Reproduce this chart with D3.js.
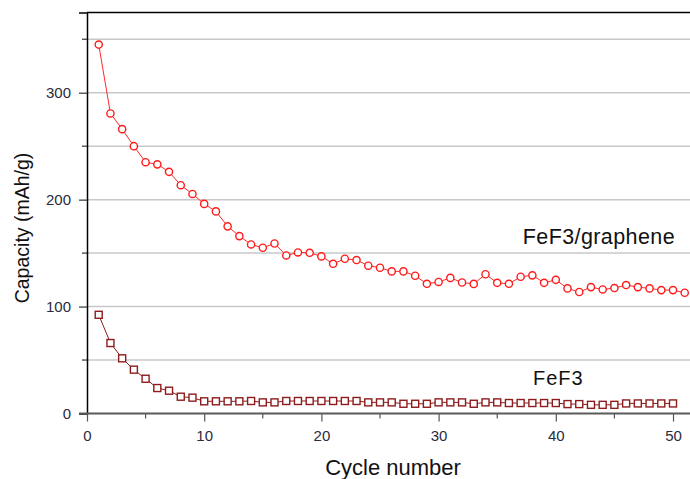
<!DOCTYPE html>
<html>
<head>
<meta charset="utf-8">
<script src="https://cdn.jsdelivr.net/npm/d3@7"></script>
<style>
  html, body { margin: 0; padding: 0; background: #fff; }
  svg { display: block; font-family: "Liberation Sans", Arial, sans-serif; }
</style>
</head>
<body>
<svg id="chart" width="690" height="479"></svg>
<script>
// capacity vs cycle number, two series
const cyclesGraphene = d3.range(1, 52);
const capGraphene = [
  345, 280.6, 265.9, 250, 235, 233, 226, 213.5, 205.3, 196,
  189, 175, 165.9, 158.1, 155, 159, 147.8, 150.6, 150.3, 146.9,
  140, 144.7, 143.5, 138.2, 136.3, 132.9, 132.9, 128.8, 121.3, 123,
  126.8, 122.5, 121.2, 130.2, 122.2, 121.3, 127.9, 129.2, 122.2, 125,
  117, 113.6, 118.2, 116, 117.3, 120.1, 118.2, 117, 115.4, 115.4,
  112.9
];
const cyclesFeF3 = d3.range(1, 51);
const capFeF3 = [
  92.3, 65.9, 51.6, 41, 32.5, 23.8, 21.3, 15.7, 14.8, 11.4,
  11.4, 11.4, 11.4, 11.7, 10.4, 10.4, 11.7, 11.7, 11.7, 11.7,
  11.7, 11.7, 11.7, 10.4, 10.4, 10.4, 9.1, 9.1, 9.1, 10.4,
  10.4, 10.4, 9.1, 10.4, 10.4, 9.8, 9.8, 9.8, 9.8, 9.8,
  8.8, 8.8, 8.1, 8.1, 8.1, 9.4, 9.4, 9.4, 9.4, 9.4
];
const yTicksMajor = [0, 100, 200, 300];
const yTicksMinor = [50, 150, 250, 350];
const yGrid = [50, 100, 150, 200, 250, 300, 350];
const xTicksMajor = [0, 10, 20, 30, 40, 50];
const xTicksMinor = [5, 15, 25, 35, 45];

const mLeft = 87, mTop = 12.5, mRight = 690, mBottom = 413.5;
const svg = d3.select("#chart");

const x = d3.scaleLinear().domain([0, 51.45]).range([mLeft, mRight]);
const y = d3.scaleLinear().domain([0, 375]).range([mBottom, mTop]);

// gridlines
svg.append("g").selectAll("line").data(yGrid).enter().append("line")
  .attr("x1", mLeft).attr("x2", mRight)
  .attr("y1", d => y(d)).attr("y2", d => y(d))
  .attr("stroke", "#c8c8c8").attr("stroke-width", 1.5);

// top frame line
svg.append("line")
  .attr("x1", mLeft).attr("x2", mRight).attr("y1", mTop).attr("y2", mTop)
  .attr("stroke", "#000").attr("stroke-width", 1.5);

// y axis
const yAxis = svg.append("g").attr("transform", `translate(${mLeft},0)`)
  .call(d3.axisLeft(y).tickValues(yTicksMajor).tickSize(8).tickPadding(8).tickFormat(d3.format("d")));
yAxis.select(".domain").attr("stroke", "#000").attr("stroke-width", 1.5);
yAxis.selectAll(".tick line").attr("stroke", "#333").attr("stroke-width", 1.2);
yAxis.selectAll("text").attr("font-size", 15).attr("fill", "#2b2b3b")
  .attr("font-family", "Liberation Sans, Arial, sans-serif");
svg.append("g").selectAll("line").data(yTicksMinor).enter().append("line")
  .attr("x1", mLeft - 5).attr("x2", mLeft)
  .attr("y1", d => y(d)).attr("y2", d => y(d))
  .attr("stroke", "#333").attr("stroke-width", 1.2);

// x axis
const xAxis = svg.append("g").attr("transform", `translate(0,${mBottom})`)
  .call(d3.axisBottom(x).tickValues(xTicksMajor).tickSize(8).tickPadding(9).tickFormat(d3.format("d")));
xAxis.select(".domain").remove();
xAxis.selectAll(".tick line").attr("stroke", "#555").attr("stroke-width", 1.2);
xAxis.selectAll("text").attr("font-size", 15).attr("fill", "#2b2b3b")
  .attr("font-family", "Liberation Sans, Arial, sans-serif");
svg.append("g").selectAll("line").data(xTicksMinor).enter().append("line")
  .attr("x1", d => x(d)).attr("x2", d => x(d))
  .attr("y1", mBottom).attr("y2", mBottom + 5)
  .attr("stroke", "#555").attr("stroke-width", 1.2);
svg.append("line")
  .attr("x1", mLeft - 8).attr("x2", mRight).attr("y1", mBottom).attr("y2", mBottom)
  .attr("stroke", "#5a5a5a").attr("stroke-width", 2);

// series
const gData = cyclesGraphene.map((c, i) => ({ c, v: capGraphene[i] }));
const fData = cyclesFeF3.map((c, i) => ({ c, v: capFeF3[i] }));
const line = d3.line().x(d => x(d.c)).y(d => y(d.v));

svg.append("path").datum(gData).attr("d", line)
  .attr("fill", "none").attr("stroke", "#ff2a2a").attr("stroke-width", 1);
svg.append("path").datum(fData).attr("d", line)
  .attr("fill", "none").attr("stroke", "#8e1c1c").attr("stroke-width", 1);

svg.append("g").selectAll("circle").data(gData).enter().append("circle")
  .attr("cx", d => x(d.c)).attr("cy", d => y(d.v)).attr("r", 3.6)
  .attr("fill", "#fff").attr("stroke", "#ff1a1a").attr("stroke-width", 1.4);

const sq = 7;
svg.append("g").selectAll("rect").data(fData).enter().append("rect")
  .attr("x", d => x(d.c) - sq / 2).attr("y", d => y(d.v) - sq / 2)
  .attr("width", sq).attr("height", sq)
  .attr("fill", "#fff").attr("stroke", "#8e1c1c").attr("stroke-width", 1.4);

// annotations and axis titles
svg.append("text").attr("x", 675).attr("y", 243.5).attr("text-anchor", "end")
  .attr("font-size", 21.5).attr("letter-spacing", 0.4).attr("fill", "#111").text("FeF3/graphene");
svg.append("text").attr("x", 533).attr("y", 385).attr("text-anchor", "start")
  .attr("font-size", 20).attr("letter-spacing", 1).attr("fill", "#111").text("FeF3");

svg.append("text").attr("x", 393).attr("y", 475).attr("text-anchor", "middle")
  .attr("font-size", 22).attr("fill", "#111").text("Cycle number");
svg.append("text").attr("transform", "translate(28.5,228) rotate(-90)")
  .attr("text-anchor", "middle").attr("font-size", 19.5).attr("fill", "#111")
  .text("Capacity (mAh/g)");
</script>
</body>
</html>
